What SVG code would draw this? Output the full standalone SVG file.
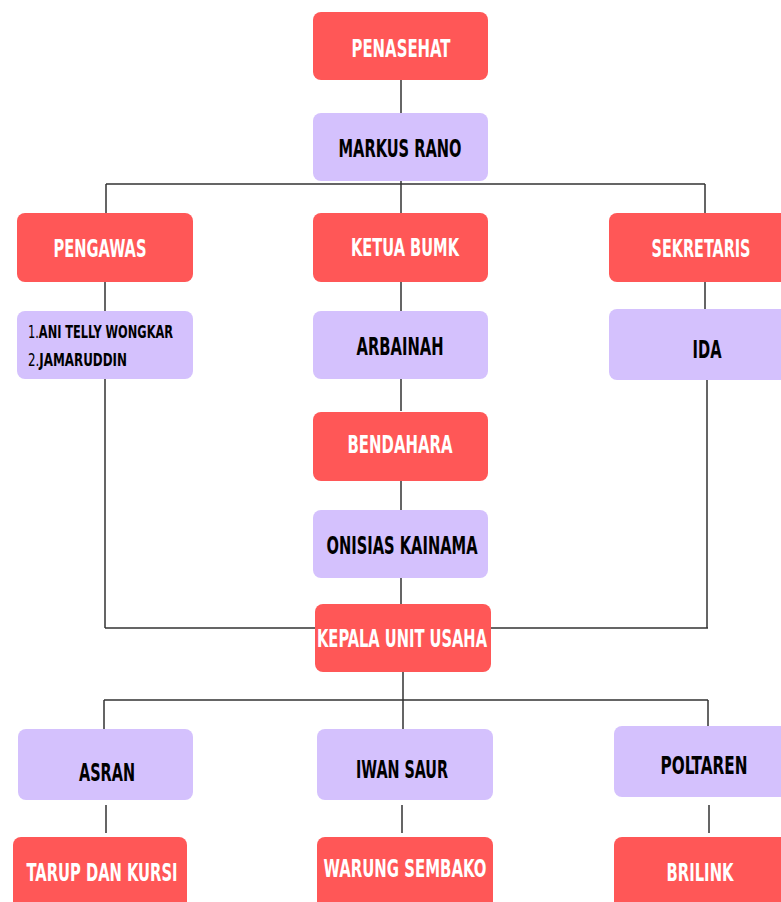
<svg xmlns="http://www.w3.org/2000/svg" width="781" height="902" viewBox="0 0 781 902">
<style>
.red{fill:#FF5757}
.pur{fill:#D4C1FD}
.t{font-family:"Liberation Sans Narrow","DejaVu Sans Condensed","Liberation Sans",sans-serif;font-weight:bold;font-size:25px;text-anchor:middle}
.w{fill:#FFFFFF}
.k{fill:#000000}
.s{font-family:"Liberation Sans Narrow","DejaVu Sans Condensed","Liberation Sans",sans-serif;font-weight:bold;font-size:18px;fill:#000}
.c{stroke:#333;stroke-width:1.5;fill:none}
</style>
<rect width="781" height="902" fill="#fff"/>
<g id="connectors" class="c">
<path d="M401 80V113"/>
<path d="M106 184H705M106 184V213M401 181V213M705 184V213"/>
<path d="M105 282V311M401 282V311M705 282V309"/>
<path d="M105 379V628M401 379V411M401 480V510M401 578V604M707 380V628M105 628H708"/>
<path d="M403 672V700M104 700H708M104 700V729M403 700V729M708 700V726"/>
<path d="M106 805V833M402 805V833M709 805V833"/>
</g>
<g id="penasehat"><rect class="red" x="313" y="12" width="175" height="68" rx="8"/><text class="t w" x="401" y="57" textLength="99" lengthAdjust="spacingAndGlyphs">PENASEHAT</text></g>
<g id="markus"><rect class="pur" x="313" y="113" width="175" height="68" rx="8"/><text class="t k" x="400" y="157" textLength="123" lengthAdjust="spacingAndGlyphs">MARKUS RANO</text></g>
<g id="pengawas"><rect class="red" x="17" y="213" width="176" height="69" rx="8"/><text class="t w" x="100" y="257" textLength="93" lengthAdjust="spacingAndGlyphs">PENGAWAS</text></g>
<g id="ketua"><rect class="red" x="313" y="213" width="175" height="69" rx="8"/><text class="t w" x="405" y="256" textLength="108" lengthAdjust="spacingAndGlyphs">KETUA BUMK</text></g>
<g id="sekretaris"><rect class="red" x="609" y="213" width="180" height="69" rx="8"/><text class="t w" x="701" y="257" textLength="99" lengthAdjust="spacingAndGlyphs">SEKRETARIS</text></g>
<g id="pengawas-names"><rect class="pur" x="17" y="311" width="176" height="68" rx="8"/>
<text class="s" x="28" y="338" textLength="145" lengthAdjust="spacingAndGlyphs"><tspan font-weight="normal">1.</tspan>ANI TELLY WONGKAR</text>
<text class="s" x="28" y="366" textLength="99" lengthAdjust="spacingAndGlyphs"><tspan font-weight="normal">2.</tspan>JAMARUDDIN</text></g>
<g id="arbainah"><rect class="pur" x="313" y="311" width="175" height="68" rx="8"/><text class="t k" x="400" y="355" textLength="87" lengthAdjust="spacingAndGlyphs">ARBAINAH</text></g>
<g id="ida"><rect class="pur" x="609" y="309" width="180" height="71" rx="8"/><text class="t k" x="707" y="358" textLength="29" lengthAdjust="spacingAndGlyphs">IDA</text></g>
<g id="bendahara"><rect class="red" x="313" y="412" width="175" height="69" rx="8"/><text class="t w" x="400" y="453" textLength="105" lengthAdjust="spacingAndGlyphs">BENDAHARA</text></g>
<g id="onisias"><rect class="pur" x="313" y="510" width="175" height="68" rx="8"/><text class="t k" x="402" y="554" textLength="151" lengthAdjust="spacingAndGlyphs">ONISIAS KAINAMA</text></g>
<g id="kepala"><rect class="red" x="315" y="604" width="176" height="68" rx="8"/><text class="t w" x="402" y="647" font-size="23" textLength="170" lengthAdjust="spacingAndGlyphs">KEPALA UNIT USAHA</text></g>
<g id="asran"><rect class="pur" x="18" y="729" width="175" height="71" rx="8"/><text class="t k" x="107" y="781" textLength="56" lengthAdjust="spacingAndGlyphs">ASRAN</text></g>
<g id="iwan"><rect class="pur" x="317" y="729" width="176" height="71" rx="8"/><text class="t k" x="402" y="778" textLength="92" lengthAdjust="spacingAndGlyphs">IWAN SAUR</text></g>
<g id="poltaren"><rect class="pur" x="614" y="726" width="180" height="71" rx="8"/><text class="t k" x="704" y="774" textLength="87" lengthAdjust="spacingAndGlyphs">POLTAREN</text></g>
<g id="tarup"><rect class="red" x="13" y="837" width="174" height="75" rx="8"/><text class="t w" x="102" y="881" textLength="151" lengthAdjust="spacingAndGlyphs">TARUP DAN KURSI</text></g>
<g id="warung"><rect class="red" x="317" y="837" width="176" height="75" rx="8"/><text class="t w" x="405" y="877" textLength="163" lengthAdjust="spacingAndGlyphs">WARUNG SEMBAKO</text></g>
<g id="brilink"><rect class="red" x="614" y="837" width="180" height="75" rx="8"/><text class="t w" x="700" y="881" textLength="67" lengthAdjust="spacingAndGlyphs">BRILINK</text></g>
</svg>
